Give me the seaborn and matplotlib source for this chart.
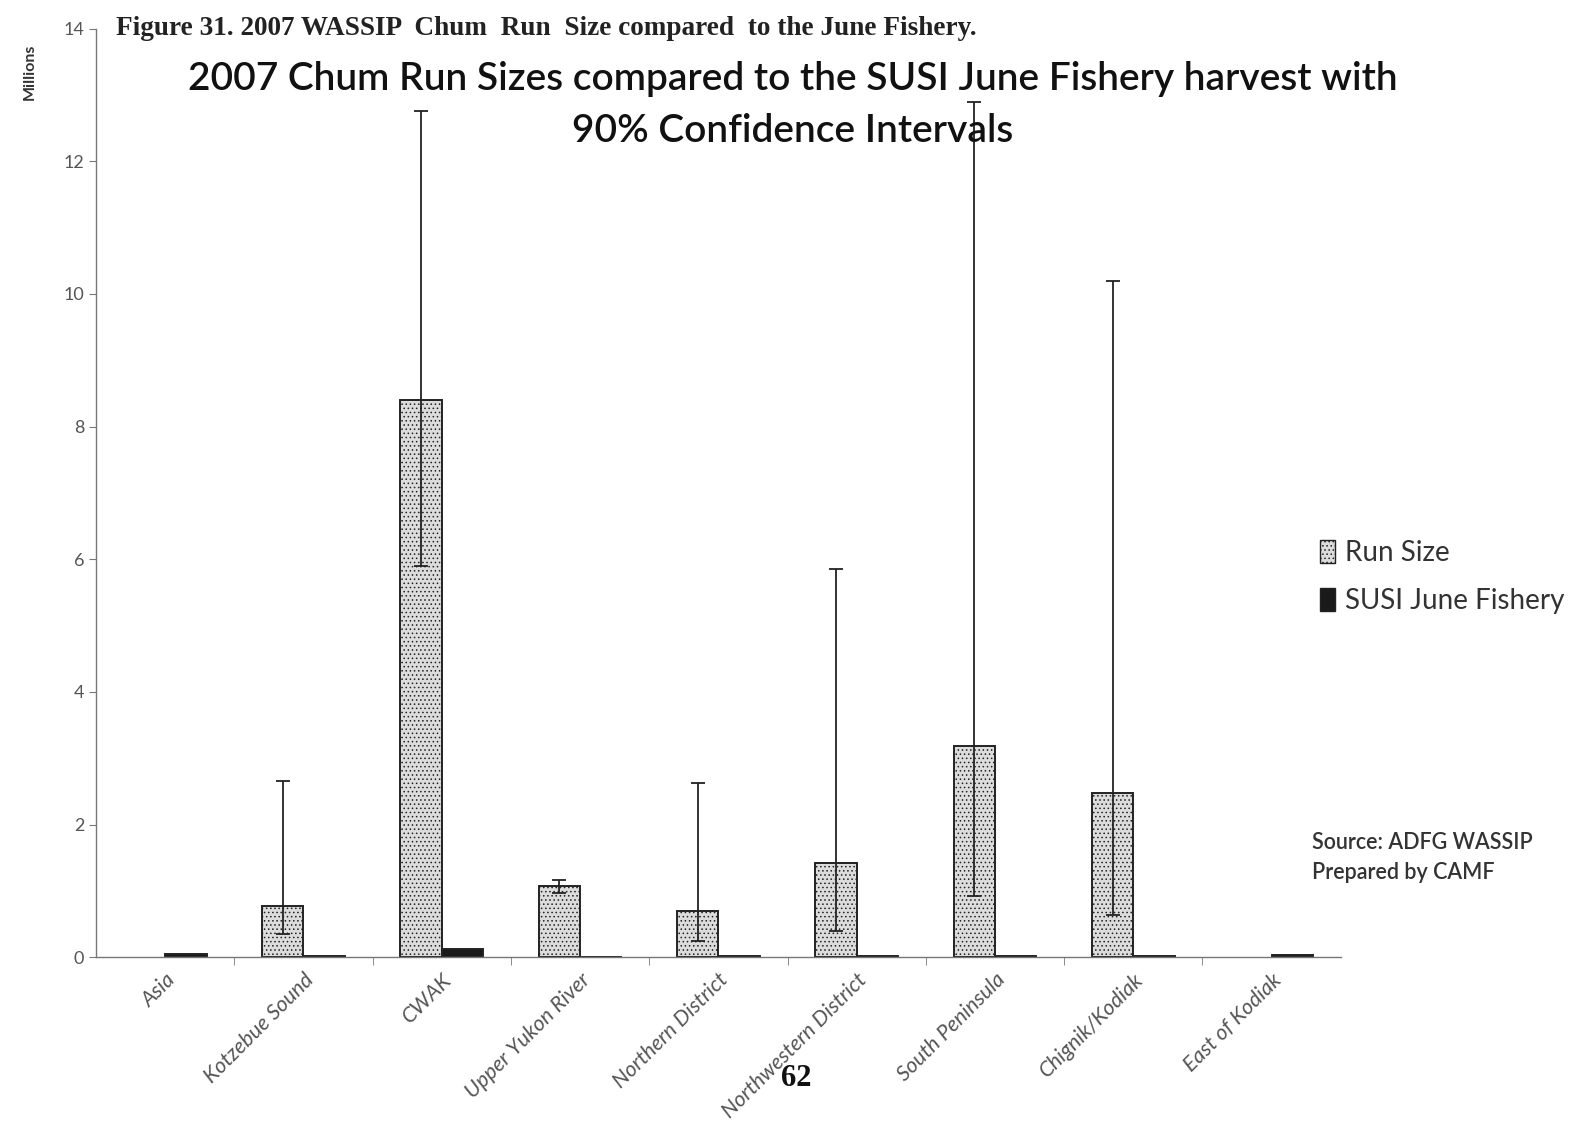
import pandas as pd
import matplotlib.pyplot as plt
import seaborn as sns
from matplotlib.ticker import MultipleLocator

# Data (millions of fish)
regions = ['Asia', 'Kotzebue Sound', 'CWAK', 'Upper Yukon River', 'Northern District',
           'Northwestern District', 'South Peninsula', 'Chignik/Kodiak', 'East of Kodiak']
run_size = [0.0, 0.78, 8.40, 1.07, 0.70, 1.42, 3.18, 2.47, 0.0]
ci_low = [0.0, 0.35, 5.90, 0.97, 0.25, 0.40, 0.93, 0.64, 0.0]
ci_high = [0.0, 2.65, 12.75, 1.17, 2.62, 5.85, 12.90, 10.20, 0.0]
susi_june = [0.05, 0.02, 0.13, 0.01, 0.015, 0.015, 0.02, 0.025, 0.04]

df = pd.DataFrame({
    'Region': regions * 2,
    'Value': run_size + susi_june,
    'Series': ['Run Size'] * len(regions) + ['SUSI June Fishery'] * len(regions),
})

sns.set_style('white')
plt.rcParams['font.family'] = ['Lato', 'DejaVu Sans']
plt.rcParams['hatch.color'] = '#555555'
plt.rcParams['hatch.linewidth'] = 0.6

fig = plt.figure(figsize=(15.83, 11.43), dpi=100)
ax = fig.add_axes([0.0606, 0.1625, 0.7864, 0.8125])

sns.barplot(data=df, x='Region', y='Value', hue='Series', width=0.6,
            palette=['#dcdcdc', '#1a1a1a'], edgecolor='#222222', linewidth=1.4,
            legend=False, ax=ax)

n = len(regions)
run_patches = ax.patches[:n]
for p, v in zip(run_patches, run_size):
    p.set_hatch('....')
    if v == 0:
        p.set_linewidth(0)

# error bars for run size (90% CI)
xs, ys, lo, hi = [], [], [], []
for p, v, l, h in zip(run_patches, run_size, ci_low, ci_high):
    if v == 0:
        continue
    xs.append(p.get_x() + p.get_width() / 2)
    ys.append(v)
    lo.append(v - l)
    hi.append(h - v)
ax.errorbar(xs, ys, yerr=[lo, hi], fmt='none', ecolor='#222222',
            elinewidth=1.3, capsize=5, capthick=1.3)

ax.set_xlim(-0.5, n - 0.5)
ax.set_ylim(0, 14)
ax.yaxis.set_major_locator(MultipleLocator(2))
ax.set_xlabel('')
ax.set_ylabel('')

sns.despine(ax=ax)
for s in ['left', 'bottom']:
    ax.spines[s].set_color('#777777')
    ax.spines[s].set_linewidth(1.0)

ax.tick_params(axis='y', direction='out', length=5, color='#777777',
               labelsize=13, labelcolor='#555555', left=True)
ax.tick_params(axis='x', which='major', length=0, pad=9)
ax.set_xticks([i + 0.5 for i in range(n - 1)], minor=True)
ax.tick_params(axis='x', which='minor', direction='out', length=6,
               color='#777777', bottom=True)
ax.set_xticks(range(n))
ax.set_xticklabels(regions, rotation=45, ha='right', rotation_mode='anchor',
                   fontsize=15.5, color='#555555', style='italic')

# titles and annotations
fig.text(0.073, 0.975, 'Figure 31. 2007 WASSIP  Chum  Run  Size compared  to the June Fishery.',
         family='Liberation Serif', fontweight='bold', fontsize=19.6, va='center',
         color='#222222')
fig.text(0.501, 0.931, '2007 Chum Run Sizes compared to the SUSI June Fishery harvest with',
         ha='center', va='center', fontsize=28, color='#111111', fontweight='semibold')
fig.text(0.501, 0.885, '90% Confidence Intervals',
         ha='center', va='center', fontsize=28, color='#111111', fontweight='semibold')
fig.text(0.019, 0.937, 'Millions', rotation=90, ha='center', va='center',
         fontsize=11.5, fontweight='bold', color='#333333')

handles = [plt.Rectangle((0, 0), 1, 1, facecolor='#dcdcdc', edgecolor='#222222', hatch='....'),
           plt.Rectangle((0, 0), 1, 1, facecolor='#1a1a1a', edgecolor='#222222')]
fig.legend(handles, ['Run Size', 'SUSI June Fishery'], loc='center left',
           bbox_to_anchor=(0.818, 0.495), frameon=False, fontsize=20,
           handlelength=0.55, handleheight=0.9, handletextpad=0.35, labelspacing=0.8,
           labelcolor='#333333')

fig.text(0.829, 0.25, 'Source: ADFG WASSIP\nPrepared by CAMF', ha='left', va='center',
         fontsize=15.5, color='#333333', linespacing=1.55, fontweight='semibold')

fig.text(0.503, 0.056, '62', family='Liberation Serif', fontweight='bold',
         fontsize=22, ha='center', va='center', color='#111111')

fig.savefig('out.png', dpi=100)
